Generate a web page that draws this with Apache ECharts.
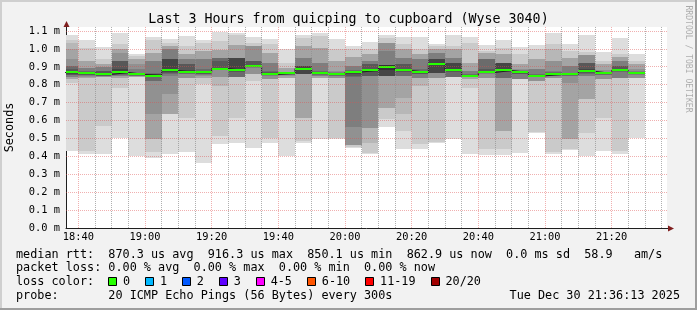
<!DOCTYPE html>
<html>
<head>
<meta charset="utf-8">
<script src="https://cdn.jsdelivr.net/npm/echarts@6.0.0/dist/echarts.min.js"></script>
<style>
html,body{margin:0;padding:0;background:#f2f2f2;}
#chart{width:697px;height:310px;}
</style>
</head>
<body>
<div id="chart"></div>
<script>
// ---------------- data ----------------
const titleText = 'Last 3 Hours from quicping to cupboard (Wyse 3040)';
const yAxisName = 'Seconds';
const barEnds = ['18:40','18:45','18:50','18:55','19:00','19:05','19:10','19:15','19:20','19:25',
  '19:30','19:35','19:40','19:45','19:50','19:55','20:00','20:05','20:10','20:15',
  '20:20','20:25','20:30','20:35','20:40','20:45','20:50','20:55','21:00','21:05',
  '21:10','21:15','21:20','21:25','21:30'];
// 20 sorted ping RTTs (ms) per 5-minute step
const pings = [
  [0.432,0.811,0.830,0.830,0.843,0.843,0.854,0.854,0.860,0.866,0.872,0.878,0.886,0.904,0.904,0.942,0.998,1.035,1.048,1.081],
  [0.411,0.430,0.839,0.839,0.846,0.850,0.854,0.857,0.860,0.862,0.866,0.869,0.872,0.877,0.895,0.895,0.932,0.932,1.007,1.048],
  [0.411,0.569,0.843,0.843,0.843,0.848,0.850,0.852,0.854,0.856,0.860,0.868,0.877,0.877,0.899,0.899,0.918,0.918,0.942,1.012],
  [0.504,0.783,0.839,0.839,0.849,0.849,0.856,0.860,0.864,0.867,0.871,0.886,0.932,0.932,0.932,0.979,0.998,0.998,1.029,1.087],
  [0.405,0.843,0.843,0.843,0.848,0.850,0.852,0.854,0.855,0.856,0.860,0.862,0.864,0.867,0.886,0.918,0.942,0.942,0.960,0.973],
  [0.392,0.426,0.495,0.495,0.635,0.821,0.821,0.845,0.848,0.850,0.854,0.858,0.862,0.867,0.932,0.932,0.979,0.979,1.050,1.068],
  [0.415,0.638,0.638,0.638,0.750,0.849,0.860,0.868,0.874,0.878,0.882,0.942,0.942,0.942,0.998,0.998,1.016,1.016,1.035,1.057],
  [0.426,0.616,0.839,0.839,0.839,0.858,0.861,0.864,0.866,0.867,0.871,0.880,0.914,0.914,0.942,0.942,0.970,0.970,1.016,1.070],
  [0.362,0.802,0.839,0.839,0.850,0.856,0.860,0.863,0.865,0.867,0.871,0.874,0.878,0.886,0.942,0.942,0.988,0.988,1.035,1.050],
  [0.467,0.514,0.793,0.843,0.843,0.880,0.883,0.886,0.888,0.889,0.893,0.895,0.932,0.951,0.951,0.951,0.992,0.992,1.044,1.096],
  [0.476,0.616,0.843,0.843,0.843,0.843,0.843,0.873,0.876,0.878,0.882,0.951,0.951,0.951,0.951,0.951,1.025,1.025,1.078,1.091],
  [0.445,0.821,0.858,0.858,0.858,0.895,0.897,0.899,0.900,0.901,0.905,0.910,0.932,0.932,0.932,1.016,1.016,1.016,1.035,1.068],
  [0.476,0.504,0.830,0.830,0.830,0.852,0.853,0.854,0.855,0.856,0.860,0.865,0.870,0.877,0.923,0.923,0.979,0.979,1.029,1.057],
  [0.402,0.839,0.839,0.839,0.850,0.854,0.857,0.859,0.861,0.862,0.866,0.867,0.868,0.870,0.871,0.873,0.895,0.895,0.923,0.998],
  [0.474,0.485,0.612,0.612,0.858,0.858,0.858,0.858,0.858,0.889,0.893,0.904,0.904,0.904,0.951,0.951,1.016,1.016,1.063,1.081],
  [0.495,0.839,0.839,0.839,0.848,0.852,0.856,0.859,0.861,0.862,0.866,0.868,0.872,0.877,0.923,0.923,1.007,1.007,1.072,1.091],
  [0.495,0.504,0.839,0.839,0.839,0.848,0.851,0.853,0.855,0.856,0.860,0.861,0.863,0.866,0.870,0.877,0.932,0.932,0.998,1.057],
  [0.446,0.455,0.465,0.465,0.465,0.563,0.843,0.850,0.860,0.868,0.874,0.876,0.878,0.882,0.904,0.904,0.955,0.955,0.998,1.016],
  [0.414,0.420,0.476,0.560,0.560,0.849,0.849,0.849,0.870,0.880,0.884,0.891,0.914,0.914,0.932,0.932,0.970,0.970,0.998,1.040],
  [0.564,0.607,0.672,0.672,0.849,0.849,0.849,0.849,0.849,0.884,0.910,0.910,0.910,0.910,0.988,1.035,1.035,1.035,1.063,1.078],
  [0.439,0.541,0.638,0.728,0.849,0.849,0.849,0.870,0.875,0.878,0.882,0.891,0.914,0.914,0.951,0.951,0.998,0.998,1.029,1.066],
  [0.439,0.467,0.793,0.839,0.839,0.839,0.858,0.862,0.865,0.867,0.871,0.874,0.878,0.886,0.942,0.942,0.970,0.970,0.998,1.066],
  [0.476,0.480,0.839,0.839,0.839,0.867,0.867,0.867,0.867,0.915,0.923,0.942,0.942,0.942,0.979,0.979,0.998,0.998,1.016,1.029],
  [0.495,0.843,0.843,0.843,0.843,0.843,0.843,0.873,0.876,0.878,0.882,0.923,0.923,0.923,0.951,0.951,0.998,0.998,1.016,1.081],
  [0.415,0.783,0.830,0.830,0.845,0.847,0.848,0.849,0.850,0.851,0.853,0.854,0.856,0.858,0.877,0.877,0.923,0.923,1.035,1.068],
  [0.407,0.439,0.839,0.839,0.839,0.862,0.864,0.866,0.867,0.868,0.870,0.874,0.886,0.942,0.942,0.942,0.979,0.979,0.988,1.020],
  [0.407,0.439,0.541,0.541,0.839,0.839,0.839,0.872,0.876,0.878,0.882,0.923,0.923,0.923,0.923,0.923,0.970,0.970,1.003,1.048],
  [0.420,0.830,0.830,0.830,0.830,0.830,0.858,0.862,0.865,0.867,0.871,0.872,0.873,0.876,0.880,0.886,0.914,0.914,0.970,1.011],
  [0.532,0.535,0.821,0.821,0.821,0.845,0.846,0.847,0.848,0.849,0.851,0.853,0.855,0.858,0.886,0.886,0.942,0.942,0.998,1.025],
  [0.414,0.427,0.839,0.839,0.839,0.849,0.851,0.853,0.855,0.856,0.860,0.862,0.866,0.870,0.877,0.932,0.932,0.998,1.029,1.087],
  [0.433,0.439,0.495,0.495,0.811,0.849,0.851,0.853,0.855,0.856,0.860,0.862,0.864,0.867,0.904,0.904,0.951,0.951,0.988,1.029],
  [0.402,0.532,0.718,0.718,0.849,0.849,0.862,0.867,0.870,0.873,0.877,0.886,0.923,0.923,0.923,0.966,0.966,0.966,0.985,1.076],
  [0.430,0.616,0.830,0.830,0.830,0.854,0.857,0.859,0.861,0.862,0.866,0.867,0.868,0.870,0.874,0.880,0.914,0.914,0.932,0.985],
  [0.411,0.430,0.839,0.839,0.839,0.839,0.873,0.875,0.877,0.878,0.882,0.886,0.904,0.904,0.932,0.932,0.955,0.955,0.970,1.063],
  [0.504,0.839,0.839,0.839,0.839,0.856,0.858,0.860,0.861,0.862,0.866,0.867,0.868,0.871,0.876,0.886,0.914,0.914,0.932,0.970]
];
const lossPerStep = [0,0,0,0,0,0,0,0,0,0,0,0,0,0,0,0,0,0,0,0,0,0,0,0,0,0,0,0,0,0,0,0,0,0,0];
const xTickLabels = ['18:40','19:00','19:20','19:40','20:00','20:20','20:40','21:00','21:20'];
const yTickValues = [0.0,0.1,0.2,0.3,0.4,0.5,0.6,0.7,0.8,0.9,1.0,1.1];
const lossLegend = ['0','1','2','3','4-5','6-10','11-19','20/20'];
const lossColors = ['#26ff00','#00b8ff','#0059ff','#5e00ff','#ff00ff','#ff5500','#ff0000','#a10000'];
const medianStats = ['870.3 us','916.3 us','850.1 us','862.9 us','0.0 ms','58.9'];
const lossStats = ['0.00 %','0.00 %','0.00 %','0.00 %'];
const probeText = '20 ICMP Echo Pings (56 Bytes) every 300s';
const stampText = 'Tue Dec 30 21:36:13 2025';
const watermarkText = 'RRDTOOL / TOBI OETIKER';

// ---------------- helpers ----------------
const MONO = '"DejaVu Sans Mono", monospace';
const toMin = s => { const p = s.split(':').map(Number); return p[0]*60 + p[1]; };
const fmtMin = v => { const h = Math.floor(v/60), m = Math.round(v - h*60); return h + ':' + String(m).padStart(2,'0'); };
const STEP = 5;
const xMin = toMin(stampText.split(' ')[3].slice(0,5)) - 180 + 0.3;
const xMax = xMin + 180.3;
const smokeGrays = [221,202,183,164,145,126,107,88,69,50].map(g => `rgb(${g},${g},${g})`);
const smokeData = barEnds.map((t,i) => [toMin(t)-STEP, toMin(t)].concat(pings[i]));
const medians = pings.map(p => (p[9]+p[10])/2);
const medianLine = barEnds.map((t,i) => [toMin(t)-STEP, medians[i]]);
medianLine.push([toMin(barEnds[barEnds.length-1]), medians[medians.length-1]]);
const greenData = barEnds.map((t,i) => [toMin(t)-STEP, toMin(t), medians[i], lossPerStep[i]]);
const firstGrid = toMin(xTickLabels[0]);
// grid rows: [x, y, kind]  kind 0 = horizontal major, 1 = vertical minor, 2 = vertical major
const gridRows = [];
for (let m = firstGrid; m < xMax; m += STEP) gridRows.push([m, 0.5, ((m - firstGrid) % 20 === 0) ? 2 : 1]);
yTickValues.filter(v => v > 0).forEach(v => gridRows.push([xMin + 90, v, 0]));

const MGRID = 'rgba(222,79,79,0.45)';
const GRID = 'rgba(143,143,143,0.7)';
// dotted line as path of 1x1 squares every 2 px
function dottedPath(x, y, len, vertical) {
  let d = '';
  for (let k = 0; k < len; k += 2) {
    d += vertical ? `M${x} ${y + k}h1v1h-1Z` : `M${x + k} ${y}h1v1h-1Z`;
  }
  return d;
}

// ---------------- layout of legend ----------------
const CW = 7.115, LX = 16;
const L1 = `median rtt:  ${medianStats[0]} avg  ${medianStats[1]} max  ${medianStats[2]} min  ${medianStats[3]} now  ${medianStats[4]} sd  ${medianStats[5]}   am/s`;
const L2 = `packet loss: ${lossStats[0]} avg  ${lossStats[1]} max  ${lossStats[2]} min  ${lossStats[3]} now`;
const L4 = `probe:       ${probeText}`;
const legendFont = '11.8px ' + MONO;
const graphics = [
  {type:'rect', shape:{x:0,y:0,width:697,height:2}, style:{fill:'#cfcfcf'}, z:100},
  {type:'rect', shape:{x:0,y:0,width:2,height:310}, style:{fill:'#cfcfcf'}, z:100},
  {type:'rect', shape:{x:0,y:308,width:697,height:2}, style:{fill:'#9e9e9e'}, z:100},
  {type:'rect', shape:{x:695,y:0,width:2,height:310}, style:{fill:'#9e9e9e'}, z:100},
  {type:'text', x:LX, y:254.7, style:{text:L1, font:legendFont, fill:'#000', verticalAlign:'middle', align:'left'}, z:100},
  {type:'text', x:LX, y:268.2, style:{text:L2, font:legendFont, fill:'#000', verticalAlign:'middle', align:'left'}, z:100},
  {type:'text', x:LX, y:282.2, style:{text:'loss color:', font:legendFont, fill:'#000', verticalAlign:'middle', align:'left'}, z:100},
  {type:'text', x:LX, y:295.7, style:{text:L4, font:legendFont, fill:'#000', verticalAlign:'middle', align:'left'}, z:100},
  {type:'text', x:680, y:295.7, style:{text:stampText, font:legendFont, fill:'#000', verticalAlign:'middle', align:'right'}, z:100},
  {type:'text', x:688.5, y:59, rotation:-Math.PI/2, style:{text:watermarkText, font:'8.1px '+MONO, fill:'rgba(0,0,0,0.3)', verticalAlign:'middle', align:'center'}, z:100},
  // axis extension + arrows
  {type:'rect', shape:{x:66,y:22,width:1,height:6}, style:{fill:'#1f1f1f'}, z:100},
  {type:'rect', shape:{x:666,y:228,width:3,height:1}, style:{fill:'#1f1f1f'}, z:100},
  {type:'polygon', shape:{points:[[66.5,21],[63.5,27],[69.5,27]]}, style:{fill:'#801f1f'}, z:101},
  {type:'polygon', shape:{points:[[674,228.5],[668,225.5],[668,231.5]]}, style:{fill:'#801f1f'}, z:101}
];
let bx = 108.3;
lossLegend.forEach((lab, i) => {
  graphics.push({type:'rect', shape:{x:Math.round(bx)+0.5, y:277.5, width:8, height:8}, style:{fill:lossColors[i], stroke:'#000', lineWidth:1}, z:100});
  const tx = bx + 14.7;
  graphics.push({type:'text', x:tx, y:282.2, style:{text:lab, font:legendFont, fill:'#000', verticalAlign:'middle', align:'left'}, z:100});
  bx = tx + lab.length*CW + 15.1;
});

// ---------------- chart ----------------
const chart = echarts.init(document.getElementById('chart'), null, {renderer:'canvas'});
chart.setOption({
  animation: false,
  backgroundColor: '#f2f2f2',
  title: {text: titleText, left: 'center', top: 13, padding: 0,
    textStyle: {fontFamily: MONO, fontSize: 13.3, fontWeight: 'normal', color: '#000'}},
  grid: {left: 66, top: 27, width: 601, height: 201, show: true, backgroundColor: '#ffffff', borderWidth: 0,
    containLabel: false, outerBoundsMode: 'none'},
  xAxis: {
    type: 'value', min: xMin, max: xMax,
    axisLine: {show: true, lineStyle: {color: '#1f1f1f', width: 1}},
    axisTick: {show: false},
    splitLine: {show: false},
    axisLabel: {customValues: xTickLabels.map(toMin), formatter: v => fmtMin(v), margin: 4,
      fontFamily: MONO, fontSize: 10.35, color: '#000'}
  },
  yAxis: {
    type: 'value', min: 0, max: 1.123, interval: 0.1,
    name: yAxisName, nameLocation: 'middle', nameRotate: 90, nameGap: 50,
    nameTextStyle: {fontFamily: MONO, fontSize: 11.8, color: '#000'},
    axisLine: {show: true, lineStyle: {color: '#1f1f1f', width: 1}},
    axisTick: {show: false},
    splitLine: {show: false},
    axisLabel: {margin: 6, fontFamily: MONO, fontSize: 10.35, color: '#000',
      formatter: v => (Math.abs(v*10 - Math.round(v*10)) < 1e-6 ? v.toFixed(1) + ' m' : '')}
  },
  graphic: graphics,
  series: [
    {
      type: 'custom', name: 'smoke', clip: true, z: 2,
      data: smokeData,
      encode: {x: [0,1], y: Array.from({length:20}, (_,k) => k+2)},
      renderItem: function (params, api) {
        const x0 = Math.round(api.coord([api.value(0), 0])[0]);
        const x1 = Math.round(api.coord([api.value(1), 0])[0]);
        const children = [];
        for (let i = 0; i < 10; i++) {
          const yt = Math.round(api.coord([0, api.value(21-i)])[1]);
          const yb = Math.round(api.coord([0, api.value(2+i)])[1]);
          children.push({type:'rect', shape:{x:x0, y:yt, width:x1-x0, height:Math.max(0, yb-yt)}, style:{fill:smokeGrays[i]}});
        }
        return {type:'group', children};
      }
    },
    {
      type: 'line', name: 'median', step: 'end', data: medianLine, showSymbol: false, symbol: 'none',
      clip: true, z: 3, lineStyle: {color: '#202020', width: 1}
    },
    {
      type: 'custom', name: 'median loss colour', clip: true, z: 4,
      data: greenData, encode: {x: [0,1], y: 2},
      renderItem: function (params, api) {
        const x0 = Math.round(api.coord([api.value(0), 0])[0]);
        const x1 = Math.round(api.coord([api.value(1), 0])[0]);
        const y = Math.round(api.coord([0, api.value(2)])[1]);
        return {type:'rect', shape:{x:x0, y:y-1, width:x1-x0, height:2}, style:{fill: lossColors[api.value(3)]}};
      }
    },
    {
      type: 'custom', name: 'grid lines', clip: false, z: 6, silent: true,
      data: gridRows, encode: {x: 0, y: 1},
      renderItem: function (params, api) {
        const cs = params.coordSys;
        const kind = api.value(2);
        const pt = api.coord([api.value(0), api.value(1)]);
        if (kind === 0) {
          const y = Math.floor(pt[1]);
          return {type:'path', shape:{pathData: dottedPath(Math.round(cs.x), y, Math.round(cs.width), false)}, style:{fill: MGRID}};
        }
        const x = Math.floor(pt[0]);
        return {type:'path', shape:{pathData: dottedPath(x, Math.round(cs.y), Math.round(cs.height), true)},
          style:{fill: kind === 2 ? MGRID : GRID}};
      }
    }
  ]
});
</script>
</body>
</html>
